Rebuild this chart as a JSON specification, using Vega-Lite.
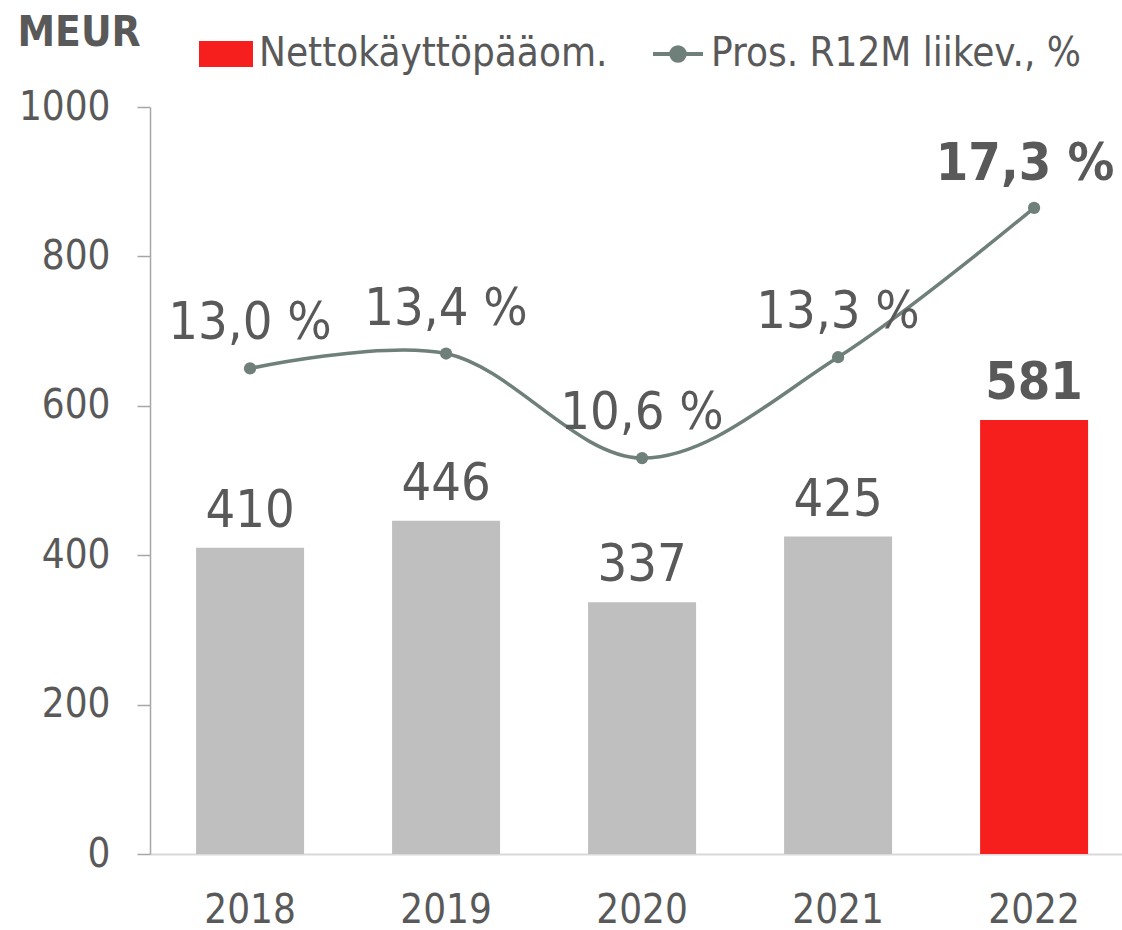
{
  "$schema": "https://vega.github.io/schema/vega-lite/v6.json",
  "autosize": "none",
  "width": 972,
  "height": 747,
  "padding": {"left": 150, "top": 107, "right": 0, "bottom": 76},
  "background": "white",
  "data": {
    "values": [
      {"year": "2018", "nwc": 410, "pct": 13.0},
      {"year": "2019", "nwc": 446, "pct": 13.4},
      {"year": "2020", "nwc": 337, "pct": 10.6},
      {"year": "2021", "nwc": 425, "pct": 13.3},
      {"year": "2022", "nwc": 581, "pct": 17.3}
    ]
  },
  "config": {
    "view": {"stroke": null},
    "font": "DejaVu Sans Condensed",
    "axis": {"grid": false}
  },
  "encoding": {
    "x": {
      "field": "year",
      "type": "ordinal",
      "scale": {"paddingInner": 0.449, "paddingOuter": 0.204, "align": 0.576},
      "axis": {
        "title": null,
        "labelAngle": 0,
        "ticks": false,
        "domainColor": "#D9D9D9",
        "domainWidth": 2,
        "labelFont": "DejaVu Sans Condensed",
        "labelFontSize": 40,
        "labelColor": "#595959",
        "labelPadding": 36
      }
    }
  },
  "layer": [
    {
      "encoding": {
        "y": {
          "field": "nwc",
          "type": "quantitative",
          "scale": {"domain": [0, 1000], "nice": false},
          "axis": {
            "values": [0, 200, 400, 600, 800, 1000],
            "format": "d",
            "title": "MEUR",
            "titleAngle": 0,
            "titleAlign": "left",
            "titleBaseline": "alphabetic",
            "titleX": -133,
            "titleY": -62,
            "titleFont": "DejaVu Sans Condensed",
            "titleFontSize": 42,
            "titleFontWeight": "bold",
            "titleColor": "#595959",
            "labelFont": "DejaVu Sans Condensed",
            "labelFontSize": 40,
            "labelColor": "#595959",
            "labelPadding": 27,
            "tickSize": 13,
            "tickColor": "#A6A6A6",
            "tickWidth": 1.5,
            "domainColor": "#A6A6A6",
            "domainWidth": 1.5,
            "grid": false
          }
        }
      },
      "layer": [
        {
          "transform": [{"filter": "datum.year != '2022'"}],
          "mark": {"type": "bar", "color": "#BFBFBF"}
        },
        {
          "transform": [{"filter": "datum.year == '2022'"}],
          "mark": {"type": "bar"},
          "encoding": {
            "color": {
              "datum": "Nettokäyttöpääom.",
              "type": "nominal",
              "scale": {
                "domain": ["Nettokäyttöpääom.", "Pros. R12M liikev., %"],
                "range": ["#F71E1E", "#6F7F79"]
              },
              "legend": {
                "title": null,
                "orient": "none",
                "legendX": 49,
                "legendY": -80,
                "direction": "horizontal",
                "columns": 2,
                "padding": 0,
                "labelFont": "DejaVu Sans Condensed",
                "labelFontSize": 40,
                "labelColor": "#595959",
                "labelLimit": 1000,
                "labelOffset": 6,
                "columnPadding": 37,
                "symbolSize": 2500,
                "symbolStrokeWidth": 4,
                "encode": {
                  "symbols": {
                    "update": {
                      "shape": {"signal": "datum.value === 'Nettokäyttöpääom.' ? 'M-1,-0.44H1V0.44H-1Z' : 'M-1,0H1M0.27,0A0.27,0.27 0 1,1 -0.27,0A0.27,0.27 0 1,1 0.27,0'"},
                      "size": {"value": 2500},
                      "fill": {"signal": "datum.value === 'Nettokäyttöpääom.' ? '#F71E1E' : '#6F7F79'"},
                      "stroke": {"signal": "datum.value === 'Nettokäyttöpääom.' ? 'transparent' : '#6F7F79'"},
                      "strokeWidth": {"value": 4},
                      "opacity": {"value": 1},
                      "fillOpacity": {"value": 1},
                      "strokeOpacity": {"value": 1}
                    }
                  }
                }
              }
            }
          }
        },
        {
          "transform": [{"filter": "datum.year != '2022'"}],
          "mark": {"type": "text", "baseline": "alphabetic", "dy": -21, "fontSize": 52, "color": "#595959", "font": "DejaVu Sans Condensed"},
          "encoding": {"text": {"field": "nwc", "type": "quantitative"}}
        },
        {
          "transform": [{"filter": "datum.year == '2022'"}],
          "mark": {"type": "text", "baseline": "alphabetic", "dy": -21, "fontSize": 52, "fontWeight": "bold", "color": "#595959", "font": "DejaVu Sans Condensed"},
          "encoding": {"text": {"field": "nwc", "type": "quantitative"}}
        }
      ]
    },
    {
      "encoding": {
        "y": {
          "field": "pct",
          "type": "quantitative",
          "scale": {"domain": [0, 20], "nice": false},
          "axis": null
        }
      },
      "layer": [
        {
          "mark": {"type": "line", "interpolate": "catmull-rom", "strokeWidth": 3.5},
          "encoding": {
            "color": {
              "datum": "Pros. R12M liikev., %",
              "type": "nominal",
              "scale": {
                "domain": ["Nettokäyttöpääom.", "Pros. R12M liikev., %"],
                "range": ["#F71E1E", "#6F7F79"]
              }
            }
          }
        },
        {
          "mark": {"type": "point", "filled": true, "size": 150, "color": "#6F7F79", "opacity": 1}
        },
        {
          "transform": [
            {"filter": "datum.year != '2022'"},
            {"calculate": "replace(format(datum.pct, '.1f'), '.', ',') + ' %'", "as": "label"}
          ],
          "mark": {"type": "text", "baseline": "alphabetic", "dy": -29, "fontSize": 52, "color": "#595959", "font": "DejaVu Sans Condensed"},
          "encoding": {"text": {"field": "label", "type": "nominal"}}
        },
        {
          "transform": [
            {"filter": "datum.year == '2022'"},
            {"calculate": "replace(format(datum.pct, '.1f'), '.', ',') + ' %'", "as": "label"}
          ],
          "mark": {"type": "text", "baseline": "alphabetic", "dy": -28, "dx": -9, "fontSize": 52, "fontWeight": "bold", "color": "#595959", "font": "DejaVu Sans Condensed"},
          "encoding": {"text": {"field": "label", "type": "nominal"}}
        }
      ]
    }
  ],
  "resolve": {"scale": {"y": "independent"}}
}
